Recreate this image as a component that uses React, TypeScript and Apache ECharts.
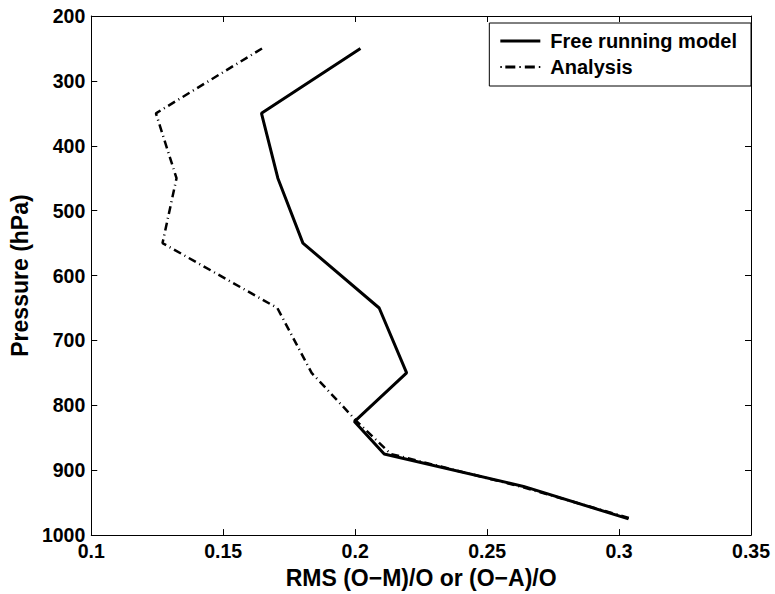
import React, { useEffect, useRef } from "react";
import * as echarts from "echarts";

const pressureLevels = [250, 350, 450, 550, 650, 750, 825, 875, 925, 975];
const freeRunningModel = [0.202, 0.1645, 0.1707, 0.1802, 0.2091, 0.2195, 0.1997, 0.211, 0.2638, 0.3036];
const analysis = [0.1647, 0.1245, 0.1323, 0.127, 0.1705, 0.1835, 0.2007, 0.2135, 0.2625, 0.305];
const seriesNames = ["Free running model", "Analysis"];
const xTitle = "RMS (O\u2212M)/O or (O\u2212A)/O";
const yTitle = "Pressure (hPa)";

const FONT = "'Liberation Sans', Arial, Helvetica, sans-serif";

const SOLID_ICON = "path://M0,0h40v3h-40z";
const DASHDOT_ICON =
  "path://M0,0.5h1.5v2h-1.5z M5,0h10v3h-10z M19,0.5h1.5v2h-1.5z M24.5,0h10v3h-10z M38.5,0.5h1.5v2h-1.5z";

export default function App() {
  const ref = useRef<HTMLDivElement>(null);
  useEffect(() => {
    if (!ref.current) return;
    const chart = echarts.init(ref.current, null, { renderer: "svg" });
    const pair = (xs: number[]) => xs.map((x, i) => [x, pressureLevels[i]]);
    const tickStyle = { show: true, inside: true, length: 6, lineStyle: { color: "#000", width: 1 } };
    const axisLine = { show: true, onZero: false, lineStyle: { color: "#000", width: 1 } };
    const labelStyle = { color: "#000", fontFamily: FONT, fontWeight: "bold" as const, fontSize: 19.5 };
    const titleStyle = { ...labelStyle, fontSize: 23 };
    chart.setOption({
      animation: false,
      backgroundColor: "#fff",
      grid: { left: 89.5, right: 24, top: 16, bottom: 56, containLabel: false },
      legend: {
        right: 24,
        top: 23,
        orient: "vertical",
        backgroundColor: "#fff",
        borderColor: "#000",
        borderWidth: 1,
        borderRadius: 0,
        padding: [8, 14, 9, 11],
        itemGap: 6,
        itemWidth: 40,
        itemHeight: 3,
        itemStyle: { color: "#000", borderWidth: 0 },
        textStyle: { ...labelStyle, fontSize: 20, padding: [0, 0, 0, 5], lineHeight: 20 },
        data: [
          { name: seriesNames[0], icon: SOLID_ICON },
          { name: seriesNames[1], icon: DASHDOT_ICON },
        ],
      },
      xAxis: [
        {
          type: "value",
          min: 0.1,
          max: 0.35,
          interval: 0.05,
          position: "bottom",
          axisLine,
          axisTick: tickStyle,
          splitLine: { show: false },
          axisLabel: { ...labelStyle, margin: 6 },
          name: xTitle,
          nameLocation: "middle",
          nameGap: 28,
          nameTextStyle: titleStyle,
        },
        {
          type: "value",
          min: 0.1,
          max: 0.35,
          interval: 0.05,
          position: "top",
          axisLine,
          axisTick: tickStyle,
          splitLine: { show: false },
          axisLabel: { show: false },
        },
      ],
      yAxis: [
        {
          type: "value",
          min: 200,
          max: 1000,
          interval: 100,
          inverse: true,
          position: "left",
          axisLine,
          axisTick: tickStyle,
          splitLine: { show: false },
          axisLabel: { ...labelStyle, margin: 6, formatter: (v: number) => String(v) },
          name: yTitle,
          nameLocation: "middle",
          nameGap: 58,
          nameRotate: 90,
          nameTextStyle: titleStyle,
        },
        {
          type: "value",
          min: 200,
          max: 1000,
          interval: 100,
          inverse: true,
          position: "right",
          axisLine,
          axisTick: tickStyle,
          splitLine: { show: false },
          axisLabel: { show: false },
        },
      ],
      series: [
        {
          name: seriesNames[0],
          type: "line",
          data: pair(freeRunningModel),
          symbol: "none",
          lineStyle: { color: "#000", width: 3, type: "solid" },
          itemStyle: { color: "#000" },
        },
        {
          name: seriesNames[1],
          type: "line",
          data: pair(analysis),
          symbol: "none",
          lineStyle: { color: "#000", width: 2.5, type: [8, 4, 1, 4] },
          itemStyle: { color: "#000" },
        },
      ],
    });
    return () => chart.dispose();
  }, []);
  return <div ref={ref} style={{ position: "fixed", left: 0, top: 0, width: 775, height: 594, background: "#fff" }} />;
}
